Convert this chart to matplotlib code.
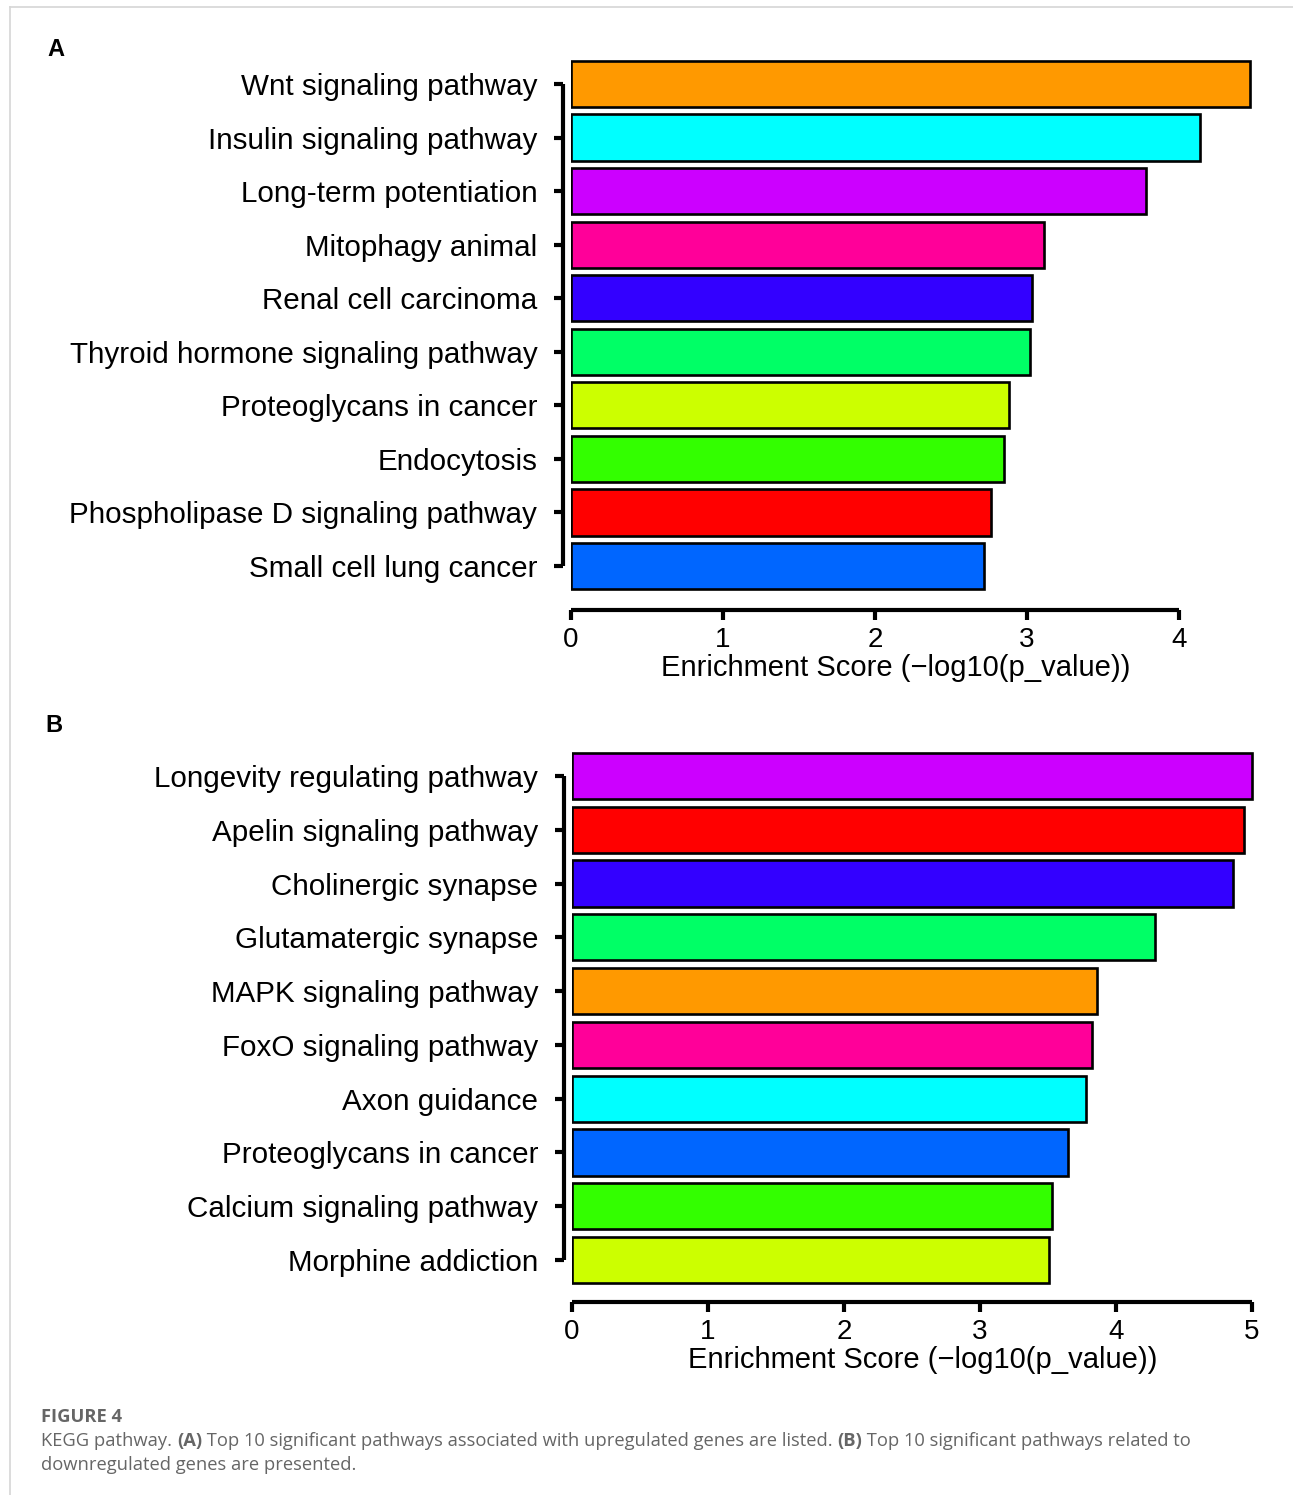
import matplotlib
matplotlib.use("Agg")
import matplotlib.pyplot as plt
from matplotlib.lines import Line2D

# ---------------- data ----------------
cats_a = ["Wnt signaling pathway", "Insulin signaling pathway", "Long-term potentiation",
          "Mitophagy animal", "Renal cell carcinoma", "Thyroid hormone signaling pathway",
          "Proteoglycans in cancer", "Endocytosis", "Phospholipase D signaling pathway",
          "Small cell lung cancer"]
vals_a = [4.47, 4.14, 3.78, 3.11, 3.03, 3.02, 2.88, 2.85, 2.76, 2.72]
cols_a = ["#FF9900", "#00FFFF", "#CC00FF", "#FF0099", "#3300FF", "#00FF66",
          "#CCFF00", "#33FF00", "#FF0000", "#0066FF"]
ticks_a = [0, 1, 2, 3, 4]

cats_b = ["Longevity regulating pathway", "Apelin signaling pathway", "Cholinergic synapse",
          "Glutamatergic synapse", "MAPK signaling pathway", "FoxO signaling pathway",
          "Axon guidance", "Proteoglycans in cancer", "Calcium signaling pathway",
          "Morphine addiction"]
vals_b = [5.00, 4.94, 4.86, 4.29, 3.86, 3.82, 3.78, 3.65, 3.53, 3.51]
cols_b = ["#CC00FF", "#FF0000", "#3300FF", "#00FF66", "#FF9900", "#FF0099",
          "#00FFFF", "#0066FF", "#33FF00", "#CCFF00"]
ticks_b = [0, 1, 2, 3, 4, 5]

xlabel = "Enrichment Score (\u2212log10(p_value))"

FONT = "Liberation Sans"
plt.rcParams["font.family"] = [FONT, "DejaVu Sans"]

W, H = 1293, 1495
fig = plt.figure(figsize=(W / 100, H / 100), dpi=100)


def panel(rect, cats, vals, cols, ticks, xmax, bottom_off, xlab_x):
    ax = fig.add_axes(rect)
    y = list(range(len(cats)))
    ax.barh(y, vals, height=0.86, color=cols, edgecolor="black", linewidth=1.9, zorder=3)
    for s in ["top", "right"]:
        ax.spines[s].set_visible(False)
    ax.spines["left"].set_position(("outward", 5.8))
    ax.spines["bottom"].set_position(("outward", bottom_off))
    ax.set_ylim(len(cats) - 1 + 0.55, -0.55)
    ax.set_xlim(0, xmax)
    ax.spines["left"].set_bounds(0, len(cats) - 1)
    ax.spines["bottom"].set_bounds(ticks[0], ticks[-1])
    for s in ["left", "bottom"]:
        ax.spines[s].set_linewidth(3)
        ax.spines[s].set_capstyle("butt")
    ax.set_yticks(y)
    ax.set_yticklabels(cats, fontsize=21.3, family=FONT)
    ax.set_xticks(ticks)
    ax.set_xticklabels([str(t) for t in ticks], fontsize=20, family=FONT)
    ax.tick_params(axis="y", length=6.5, width=3, pad=12)
    ax.tick_params(axis="x", length=7, width=3, pad=5)
    ax.set_xlabel(xlabel, fontsize=21, family=FONT, labelpad=1)
    ax.xaxis.label.set_x(xlab_x)
    ax.patch.set_alpha(0)
    return ax


panel([571 / W, 1 - 595.5 / H, 699.2 / W, 541 / H], cats_a, vals_a, cols_a, ticks_a, 4.6, 10.4, 0.465)
panel([572 / W, 1 - 1289.6 / H, 693.6 / W, 543.2 / H], cats_b, vals_b, cols_b, ticks_b, 5.1, 8.9, 0.506)

# panel letters
fig.text(47 / W, 1 - 50 / H, "A", fontsize=17, fontweight="bold", family=FONT, va="center", ha="left")
fig.text(45 / W, 1 - 726 / H, "B", fontsize=17, fontweight="bold", family=FONT, va="center", ha="left")

# frame lines
fig.add_artist(Line2D([10 / W, 1], [1 - 7 / H, 1 - 7 / H], color="#d6d6d6", lw=1.2))
fig.add_artist(Line2D([10 / W, 10 / W], [0, 1 - 7 / H], color="#d6d6d6", lw=1.2))

# caption
CAP = "Open Sans"
grey = "#666666"
cap_fs = 13.2
fig.text(41 / W, 1 - 1417 / H, "FIGURE 4", fontsize=cap_fs, fontweight="bold", family=CAP,
         color=grey, va="center", ha="left")

line1 = [("KEGG pathway. ", "normal"), ("(A)", "bold"),
         (" Top 10 significant pathways associated with upregulated genes are listed. ", "normal"),
         ("(B)", "bold"), (" Top 10 significant pathways related to", "normal")]
line2 = [("downregulated genes are presented.", "normal")]

fig.canvas.draw()
renderer = fig.canvas.get_renderer()


def write_line(parts, ypx):
    x = 41
    for txt, wt in parts:
        t = fig.text(x / W, 1 - ypx / H, txt, fontsize=cap_fs, fontweight=wt, family=CAP,
                     color=grey, va="center", ha="left")
        bb = t.get_window_extent(renderer=renderer)
        x += bb.width


write_line(line1, 1441)
write_line(line2, 1465)

fig.savefig("out.png", dpi=100)
